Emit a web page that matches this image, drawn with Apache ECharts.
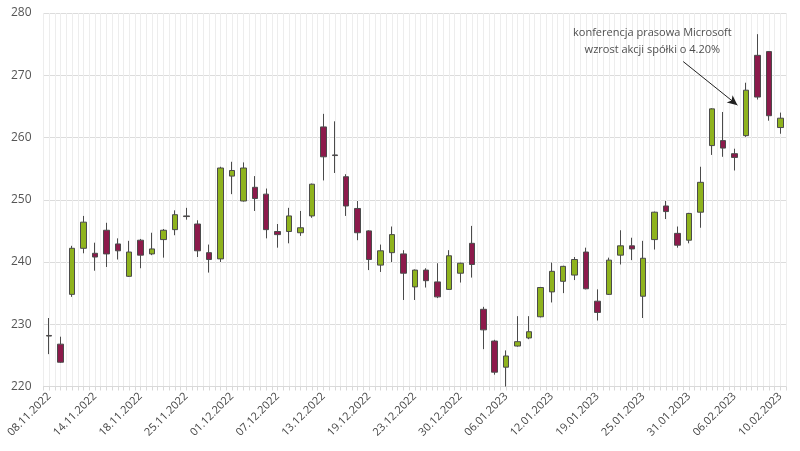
<!DOCTYPE html>
<html>
<head>
<meta charset="utf-8">
<script src="https://cdn.jsdelivr.net/npm/echarts@6/dist/echarts.min.js"></script>
<style>html,body{margin:0;padding:0;background:#fff}#c{width:800px;height:451px}</style>
</head>
<body>
<div id="c"></div>
<script>
const dates = ['08.11.2022','09.11.2022','10.11.2022','11.11.2022','14.11.2022','15.11.2022','16.11.2022','17.11.2022','18.11.2022','21.11.2022','22.11.2022','23.11.2022','25.11.2022','28.11.2022','29.11.2022','30.11.2022',
'01.12.2022','02.12.2022','05.12.2022','06.12.2022','07.12.2022','08.12.2022','09.12.2022','12.12.2022','13.12.2022','14.12.2022','15.12.2022','16.12.2022','19.12.2022','20.12.2022','21.12.2022','22.12.2022','23.12.2022','27.12.2022','28.12.2022','29.12.2022','30.12.2022',
'03.01.2023','04.01.2023','05.01.2023','06.01.2023','09.01.2023','10.01.2023','11.01.2023','12.01.2023','13.01.2023','17.01.2023','18.01.2023','19.01.2023','20.01.2023','23.01.2023','24.01.2023','25.01.2023','26.01.2023','27.01.2023','30.01.2023','31.01.2023',
'01.02.2023','02.02.2023','03.02.2023','06.02.2023','07.02.2023','08.02.2023','09.02.2023','10.02.2023'];
const openV  = [228.2,226.8,234.8,242.2,241.4,245.1,242.9,237.7,243.5,241.3,243.6,245.2,247.4,246.1,241.5,240.5,253.8,249.8,252.0,250.9,244.9,244.9,244.7,247.4,261.7,257.2,253.7,248.6,245.0,239.5,241.5,241.3,236.0,238.7,236.8,235.6,238.2,243.0,232.4,227.3,223.1,226.5,227.8,231.2,235.2,236.9,237.9,241.6,233.7,234.8,241.1,242.6,234.5,243.6,249.0,244.6,243.5,248.0,258.7,259.5,257.4,260.3,273.2,273.8,261.6];
const closeV = [228.1,223.9,242.2,246.4,240.8,241.3,241.8,241.6,241.1,242.1,245.1,247.6,247.3,241.8,240.4,255.1,254.7,255.1,250.2,245.2,244.4,247.4,245.5,252.5,256.9,257.1,249.0,244.7,240.4,241.8,244.4,238.2,238.7,237.0,234.4,241.0,239.8,239.6,229.1,222.3,224.9,227.2,228.8,235.9,238.5,239.3,240.4,235.7,231.9,240.3,242.6,242.1,240.6,248.0,248.1,242.7,247.8,252.8,264.6,258.3,256.8,267.6,266.5,263.5,263.1];
const lowV   = [225.2,223.8,234.4,241.4,238.6,239.2,240.4,237.6,239.0,241.1,240.7,244.3,246.8,240.8,238.3,240.0,250.9,249.7,248.2,243.8,242.3,243.0,244.2,247.1,253.1,254.3,247.4,243.5,238.7,238.4,240.0,233.9,233.9,235.9,234.2,235.5,236.7,237.5,226.0,221.9,220.0,226.4,227.6,231.1,233.5,235.0,237.1,235.6,230.6,234.7,239.6,240.3,231.0,242.0,246.9,242.3,243.0,245.5,257.2,256.9,254.7,260.1,266.1,262.7,260.6];
const highV  = [231.0,228.0,242.6,247.4,243.1,246.3,243.8,243.4,243.7,244.7,245.3,248.3,248.7,246.7,242.8,255.3,256.1,256.0,253.8,251.8,246.1,248.7,248.2,252.6,263.8,262.6,254.1,249.8,245.1,242.8,245.7,241.9,238.8,239.0,239.8,241.9,239.9,245.8,232.8,227.5,225.8,231.3,231.3,236.0,239.9,239.4,240.8,242.3,235.6,240.7,245.1,243.9,243.4,248.1,249.8,245.7,247.9,255.3,264.7,264.1,258.2,268.8,276.6,273.9,264.0];
const yTicks = {min:220, max:280, step:10};
const noteLines = ['konferencja prasowa Microsoft','wzrost akcji spółki o 4.20%'];
const notePos = [52.8, 275.4];
const arrowFrom = [55.5, 272.2];
const arrowTo = [60.25, 265.2];

const candles = dates.map((d,i)=>[openV[i], closeV[i], lowV[i], highV[i]]);
const chart = echarts.init(document.getElementById('c'), null, {renderer:'canvas'});
const font = '"Open Sans", "Noto Sans", sans-serif';
chart.setOption({
  animation:false,
  backgroundColor:'#fff',
  textStyle:{fontFamily:font},
  grid:{left:43.5, right:14, top:13, bottom:64.5},
  xAxis:[{
    type:'category', data:dates, boundaryGap:true,
    axisLine:{show:true, lineStyle:{color:'#d9d9d9'}},
    axisTick:{show:false},
    axisLabel:{interval:3, rotate:45, color:'#444', fontSize:11, fontFamily:font, margin:8},
    splitLine:{show:false}
  },{
    type:'value', min:-0.5, max:dates.length-0.5, interval:0.5,
    position:'bottom', show:true,
    axisLine:{show:false},
    axisTick:{show:true, length:4, lineStyle:{color:'#d9d9d9'}},
    axisLabel:{show:false},
    splitLine:{show:true, lineStyle:{color:'#ededed', width:1}}
  }],
  yAxis:{
    type:'value', min:yTicks.min, max:yTicks.max, interval:yTicks.step,
    axisLine:{show:false}, axisTick:{show:false},
    axisLabel:{color:'#555', fontSize:12, fontFamily:font, margin:12},
    splitLine:{show:true, lineStyle:{color:'#dcdcdc', width:1}}
  },
  series:[{
    type:'candlestick', xAxisIndex:0, data:candles, barWidth:'52%',
    itemStyle:{
      color:'#8fb31d', color0:'#8c1a4b',
      borderColor:'#4b4b4b', borderColor0:'#4b4b4b', borderColorDoji:'#333',
      borderWidth:1
    },
    z:3
  },{
    type:'scatter', xAxisIndex:1, data:[notePos], symbolSize:0, silent:true,
    label:{show:true, position:'inside', formatter:noteLines.join('\n'), color:'#222', fontSize:11, lineHeight:17, fontFamily:font},
    markLine:{
      silent:true, symbol:['none','arrow'], symbolSize:[7,10],
      lineStyle:{color:'#222', width:1, type:'solid'},
      label:{show:false},
      data:[[{coord:arrowFrom},{coord:arrowTo}]]
    },
    z:4
  }]
});
</script>
</body>
</html>
